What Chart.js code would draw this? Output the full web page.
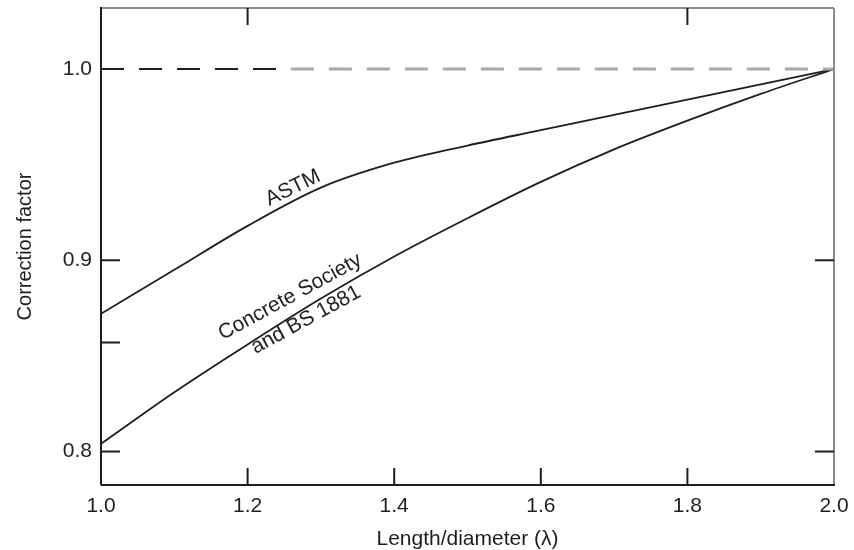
<!DOCTYPE html>
<html><head><meta charset="utf-8">
<script src="https://cdn.jsdelivr.net/npm/chart.js@4"></script>
<style>html,body{margin:0;padding:0;background:#fff}#wrap{width:854px;height:550px}</style>
</head><body><div id="wrap"><canvas id="c" width="854" height="550"></canvas></div>
<script>
// ---- data ----
const lambdaValues = [1.0, 1.1, 1.2, 1.3, 1.4, 1.5, 1.6, 1.7, 1.8, 1.9, 2.0];
const astmFactors = [0.872, 0.895, 0.918, 0.938, 0.951, 0.960, 0.968, 0.976, 0.984, 0.992, 1.000];
const concreteSocietyFactors = [0.804, 0.831, 0.856, 0.880, 0.902, 0.922, 0.941, 0.958, 0.973, 0.987, 1.000];
const referenceLambdaBlack = [1.0, 1.259];
const referenceLambdaGrey = [1.259, 2.0];
const referenceFactor = [1.0, 1.0];
const xTickValues = [1.0, 1.2, 1.4, 1.6, 1.8, 2.0];
const yTickValues = [0.8, 0.9, 1.0];
const bottomInnerTicks = [1.2, 1.4, 1.6, 1.8];
const topInnerTicks = [1.2, 1.8];
const leftInnerTicks = [0.8, 0.857, 0.9, 1.0];
const rightInnerTicks = [0.8, 0.9];
const curveLabels = ['ASTM', 'Concrete Society', 'and BS 1881'];

const pts = (xs, ys) => xs.map((x, i) => ({x: x, y: ys[i]}));
const FONT = '"Liberation Sans", Arial, Helvetica, sans-serif';
const INK = '#1e1e1e';

const framePlugin = {
  id: 'frame',
  afterDatasetsDraw(chart) {
    const {ctx, chartArea: {left, right, top, bottom}, scales: {x, y}} = chart;
    const line = (x1, y1, x2, y2) => { ctx.beginPath(); ctx.moveTo(x1, y1); ctx.lineTo(x2, y2); ctx.stroke(); };
    ctx.save();
    ctx.lineWidth = 2;
    ctx.strokeStyle = '#8c8c8c';
    line(left, top, right, top);
    line(right, top, right, bottom);
    ctx.strokeStyle = INK;
    line(left, top - 1, left, bottom);
    line(left, bottom, right + 1, bottom);
    // inward ticks
    bottomInnerTicks.forEach(v => { const px = x.getPixelForValue(v); line(px, bottom, px, bottom - 17); });
    topInnerTicks.forEach(v => { const px = x.getPixelForValue(v); line(px, top, px, top + 17); });
    leftInnerTicks.forEach(v => { const py = y.getPixelForValue(v); line(left, py, left + 19, py); });
    rightInnerTicks.forEach(v => { const py = y.getPixelForValue(v); line(right, py, right - 19, py); });
    // curve labels, anchored in data coordinates
    const anchors = [
      {text: curveLabels[0], x: 1.262, y: 0.9378, rot: -26},
      {text: curveLabels[1], x: 1.258, y: 0.8808, rot: -28.6},
      {text: curveLabels[2], x: 1.2797, y: 0.8688, rot: -28.6}
    ];
    ctx.fillStyle = INK;
    ctx.font = '21px ' + FONT;
    ctx.textAlign = 'center';
    ctx.textBaseline = 'middle';
    anchors.forEach(a => {
      ctx.save();
      ctx.translate(x.getPixelForValue(a.x), y.getPixelForValue(a.y));
      ctx.rotate(a.rot * Math.PI / 180);
      ctx.fillText(a.text, 0, 0);
      ctx.restore();
    });
    ctx.restore();
  }
};

new Chart(document.getElementById('c'), {
  type: 'scatter',
  data: {
    datasets: [
      {label: 'ref-black', data: pts(referenceLambdaBlack, referenceFactor), showLine: true, borderColor: INK, borderWidth: 2, borderDash: [23, 15], pointRadius: 0},
      {label: 'ref-grey', data: pts(referenceLambdaGrey, referenceFactor), showLine: true, borderColor: '#a9a9a9', borderWidth: 3, borderDash: [23, 15], pointRadius: 0},
      {label: 'ASTM', data: pts(lambdaValues, astmFactors), showLine: true, borderColor: INK, borderWidth: 1.8, pointRadius: 0, cubicInterpolationMode: 'monotone'},
      {label: 'Concrete Society and BS 1881', data: pts(lambdaValues, concreteSocietyFactors), showLine: true, borderColor: INK, borderWidth: 1.8, pointRadius: 0, cubicInterpolationMode: 'monotone'}
    ]
  },
  options: {
    responsive: false,
    animation: false,
    devicePixelRatio: 1,
    layout: {padding: {top: 8, right: 20, bottom: 0, left: 0}},
    plugins: {legend: {display: false}, tooltip: {enabled: false}},
    scales: {
      x: {
        type: 'linear', min: 1.0, max: 2.0,
        afterBuildTicks: s => { s.ticks = xTickValues.map(v => ({value: v})); },
        afterFit: s => { s.height = 65; s.paddingLeft = 0; s.paddingRight = 0; },
        grid: {display: false, drawTicks: false},
        border: {display: false},
        ticks: {padding: 9, color: INK, font: {family: FONT, size: 21}, callback: v => Number(v).toFixed(1), maxRotation: 0, autoSkip: false},
        title: {display: true, text: 'Length/diameter (λ)', color: INK, font: {family: FONT, size: 21, lineHeight: 1}, padding: {top: 0, bottom: 0}}
      },
      y: {
        type: 'linear', min: 0.7825, max: 1.0319,
        afterBuildTicks: s => { s.ticks = yTickValues.map(v => ({value: v})); },
        afterFit: s => { s.width = 101; s.paddingTop = 0; s.paddingBottom = 0; },
        grid: {display: false, drawTicks: false},
        border: {display: false},
        ticks: {padding: 9, color: INK, font: {family: FONT, size: 21}, callback: v => Number(v).toFixed(1)},
        title: {display: true, text: 'Correction factor', color: INK, font: {family: FONT, size: 20, lineHeight: 1.2}, padding: {top: 13, bottom: 0}}
      }
    }
  },
  plugins: [framePlugin]
});
</script></body></html>
